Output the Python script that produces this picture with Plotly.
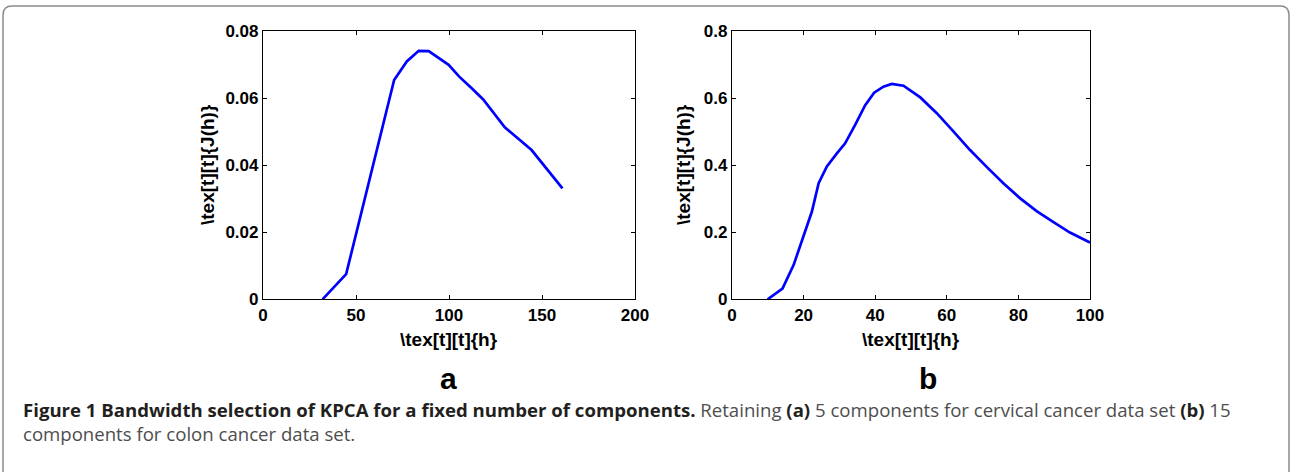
import plotly.graph_objects as go

# Panel a: cervical cancer, 5 components
h_a = [32.0, 44.7, 70.5, 77.3, 83.7, 89.1, 99.8, 105.5, 112.2, 118.4, 130.0, 137.2, 144.4, 161.0]
j_a = [0.0, 0.0075, 0.0654, 0.0709, 0.0741, 0.0740, 0.0699, 0.0664, 0.0629, 0.0596, 0.0513, 0.0480, 0.0445, 0.0331]

# Panel b: colon cancer, 15 components
h_b = [9.95, 14.1, 17.2, 20.0, 22.3, 24.2, 26.5, 29.3, 31.6, 34.4, 37.2, 39.7, 42.3, 44.6, 47.9,
       52.6, 57.2, 61.9, 66.5, 71.2, 75.8, 80.5, 85.1, 89.8, 94.4, 100.0]
j_b = [0.0, 0.032, 0.102, 0.187, 0.261, 0.346, 0.396, 0.435, 0.465, 0.520, 0.579, 0.616, 0.634, 0.642, 0.637,
       0.602, 0.555, 0.500, 0.445, 0.394, 0.346, 0.301, 0.263, 0.230, 0.199, 0.169]

xticks_a = [0, 50, 100, 150, 200]
yticks_a = [0, 0.02, 0.04, 0.06, 0.08]
yticklabels_a = ["0", "0.02", "0.04", "0.06", "0.08"]
xticks_b = [0, 20, 40, 60, 80, 100]
yticks_b = [0, 0.2, 0.4, 0.6, 0.8]
yticklabels_b = ["0", "0.2", "0.4", "0.6", "0.8"]

W, H = 1292, 472
def px(x): return x / W
def py(y): return 1 - y / H

fig = go.Figure()
fig.add_trace(go.Scatter(x=h_a, y=j_a, mode="lines", line=dict(color="#0000ff", width=2.7),
                         xaxis="x", yaxis="y", showlegend=False, hoverinfo="skip"))
fig.add_trace(go.Scatter(x=h_b, y=j_b, mode="lines", line=dict(color="#0000ff", width=2.7),
                         xaxis="x2", yaxis="y2", showlegend=False, hoverinfo="skip"))

tickfont = dict(family="Liberation Sans, Arial, sans-serif", size=17, color="black", weight="bold")
axis_common = dict(showline=True, linecolor="black", linewidth=1.2, mirror="allticks",
                   ticks="inside", ticklen=4, tickcolor="black", showgrid=False, zeroline=False,
                   tickfont=tickfont, automargin=False)

ytop, ybot = 31, 299.3
fig.update_layout(
    width=W, height=H, margin=dict(l=0, r=0, t=0, b=0, pad=0), autosize=False,
    paper_bgcolor="white", plot_bgcolor="white",
    xaxis=dict(domain=[px(263), px(635)], range=[0, 200], tickvals=xticks_a, anchor="y", **axis_common),
    yaxis=dict(domain=[py(ybot), py(ytop)], range=[0, 0.08], tickvals=yticks_a, ticktext=yticklabels_a,
               anchor="x", **axis_common),
    xaxis2=dict(domain=[px(732), px(1090)], range=[0, 100], tickvals=xticks_b, anchor="y2", **axis_common),
    yaxis2=dict(domain=[py(ybot), py(ytop)], range=[0, 0.8], tickvals=yticks_b, ticktext=yticklabels_b,
                anchor="x2", **axis_common),
)

lab_font = dict(family="Liberation Sans, Arial, sans-serif", size=19, color="black", weight="bold")
ann = []
for cx, yx in [((263 + 635) / 2, 207), ((732 + 1090) / 2, 683)]:
    ann.append(dict(x=px(cx), y=py(339), xref="paper", yref="paper", text="\\tex[t][t]{h}",
                    showarrow=False, font=lab_font, xanchor="center", yanchor="middle"))
    ann.append(dict(x=px(yx), y=py(165), xref="paper", yref="paper", text="\\tex[t][t]{J(h)}",
                    showarrow=False, font=lab_font, textangle=-90, xanchor="center", yanchor="middle"))

big = dict(family="Liberation Sans, Arial, sans-serif", size=30, color="black", weight="bold")
ann.append(dict(x=px(448), y=py(378), xref="paper", yref="paper", text="a", showarrow=False,
                font=big, xanchor="center", yanchor="middle"))
ann.append(dict(x=px(928), y=py(378), xref="paper", yref="paper", text="b", showarrow=False,
                font=big, xanchor="center", yanchor="middle"))

cap_font = dict(family="Open Sans, sans-serif", size=18.6, color="#4d4d4d")
caption = ("<b><span style='color:#231f20'>Figure 1 Bandwidth selection of KPCA for a fixed number of components.</span></b>"
           " Retaining <b><span style='color:#231f20'>(a)</span></b> 5 components for cervical cancer data set "
           "<b><span style='color:#231f20'>(b)</span></b> 15<br>components for colon cancer data set.")
ann.append(dict(x=px(21), y=py(421), xref="paper", yref="paper", text=caption, showarrow=False,
                font=cap_font, xanchor="left", yanchor="middle", align="left"))
fig.update_layout(annotations=ann)

# rounded frame (bottom edge outside the picture)
r = 9
path = (f"M {px(3)},{py(490)} L {px(3)},{py(6 + r)} Q {px(3)},{py(6)} {px(3 + r)},{py(6)} "
        f"L {px(1289 - r)},{py(6)} Q {px(1289)},{py(6)} {px(1289)},{py(6 + r)} L {px(1289)},{py(490)}")
fig.add_shape(type="path", path=path, xref="paper", yref="paper",
              line=dict(color="#8a8a8a", width=1.5))

# remove the default 8px page margin so the figure fills the window exactly
fig.write_html("out.html", config={"displayModeBar": False},
               post_script="document.body.style.margin='0';document.body.style.overflow='hidden';")
